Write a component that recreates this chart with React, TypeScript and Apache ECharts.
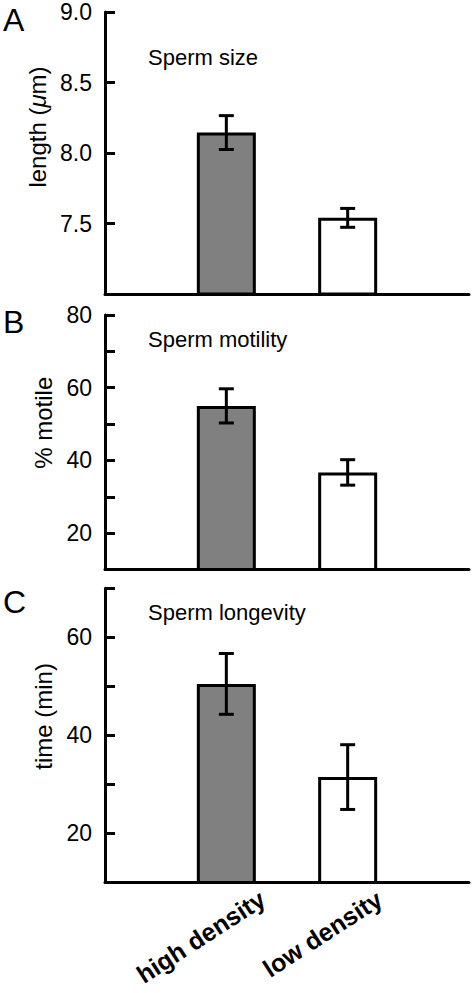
import React, { useEffect, useRef } from "react";
import * as echarts from "echarts";

// ---- data ----
const groups = ["high density", "low density"];
const barColors = ["#808080", "#ffffff"];

const panelLetters = ["A", "B", "C"];
const panelTitles = ["Sperm size", "Sperm motility", "Sperm longevity"];
const yAxisNames = ["length ({i|μ}m)", "% motile", "time (min)"];

const sizeMeans = [8.145, 7.54];
const sizeErrors = [0.12, 0.067];
const motilityMeans = [55.0, 36.7];
const motilityErrors = [4.7, 3.5];
const longevityMeans = [50.5, 31.5];
const longevityErrors = [6.2, 6.6];

const sizeTickLabels = ["7.5", "8.0", "8.5", "9.0"];
const motilityTickLabels = ["20", "40", "60", "80"];
const longevityTickLabels = ["20", "40", "60"];

const yMins = [7.0, 10, 10];
const yMaxs = [9.0, 80, 70];
const yIntervals = [0.5, 10, 10];
const tickDecimals = [1, 0, 0];

// ---- layout ----
const FONT = "'Liberation Sans', Arial, Helvetica, sans-serif";
const gridLeft = 105;
const gridWidth = 364;
const gridTops = [12, 315, 588.3];
const gridHeights = [282, 254.5, 294.2];
const nameGaps = [52, 31, 37];
const namePadLeft = [52, 39, 38];
const titleTops = [46, 328, 601];
const letterTops = [4, 306, 586];

export default function App() {
  const ref = useRef<HTMLDivElement>(null);

  useEffect(() => {
    document.body.style.margin = "0";
    if (!ref.current) return;
    const chart = echarts.init(ref.current, null, { renderer: "svg" });

    const means = [sizeMeans, motilityMeans, longevityMeans];
    const errors = [sizeErrors, motilityErrors, longevityErrors];
    const tickLabels = [sizeTickLabels, motilityTickLabels, longevityTickLabels];
    const axisCats = ["", ...groups, " "];

    const grids: any[] = gridTops.map((t, i) => ({
      left: gridLeft,
      width: gridWidth,
      top: t,
      height: gridHeights[i],
      containLabel: false,
    }));
    // label grid for rotated category names (panel C)
    grids.push({ left: 204, width: 234, top: gridTops[2], height: gridHeights[2] });

    const xAxes: any[] = gridTops.map((_, i) => ({
      gridIndex: i,
      type: "category",
      data: axisCats,
      boundaryGap: false,
      axisLine: { show: true, onZero: false, lineStyle: { color: "#000", width: 3 } },
      axisTick: { show: false },
      axisLabel: { show: false },
      splitLine: { show: false },
    }));
    xAxes.push({
      gridIndex: 3,
      type: "category",
      data: groups,
      boundaryGap: true,
      axisLine: { show: false },
      axisTick: { show: false },
      splitLine: { show: false },
      axisLabel: {
        show: true,
        interval: 0,
        rotate: 33,
        margin: 14,
        fontSize: 25,
        fontWeight: "bold",
        color: "#000",
        fontFamily: FONT,
      },
    });

    const yAxes: any[] = gridTops.map((_, i) => ({
      gridIndex: i,
      type: "value",
      min: yMins[i],
      max: yMaxs[i],
      interval: yIntervals[i],
      axisLine: { show: true, onZero: false, lineStyle: { color: "#000", width: 3 } },
      axisTick: { show: true, inside: true, length: 10, lineStyle: { color: "#000", width: 3 } },
      splitLine: { show: false },
      axisLabel: {
        margin: 13,
        fontSize: 23,
        color: "#000",
        fontFamily: FONT,
        formatter: (v: number) => {
          const s = v.toFixed(tickDecimals[i]);
          return tickLabels[i].indexOf(s) >= 0 ? s : "";
        },
      },
      name: yAxisNames[i],
      nameLocation: "middle",
      nameGap: nameGaps[i],
      nameTextStyle: {
        fontSize: 24,
        color: "#000",
        fontFamily: FONT,
        padding: [0, 0, 0, namePadLeft[i]],
        rich: {
          i: { fontSize: 24, fontStyle: "italic", color: "#000", fontFamily: FONT },
        },
      },
    }));
    yAxes.push({ gridIndex: 3, type: "value", show: false });

    const series: any[] = [];
    gridTops.forEach((_, i) => {
      series.push({
        type: "bar",
        xAxisIndex: i,
        yAxisIndex: i,
        barWidth: 59,
        data: ["-", ...means[i].map((m, k) => ({
          value: m,
          itemStyle: { color: barColors[k], borderColor: "#000", borderWidth: 3 },
        })), "-"],
      });
      series.push({
        type: "custom",
        xAxisIndex: i,
        yAxisIndex: i,
        data: means[i].map((m, k) => [k + 1, m - errors[i][k], m + errors[i][k]]),
        z: 10,
        renderItem: (params: any, api: any) => {
          const lo = api.coord([api.value(0), api.value(1)]);
          const hi = api.coord([api.value(0), api.value(2)]);
          const hw = 7.5;
          const style = { stroke: "#000", lineWidth: 3 };
          return {
            type: "group",
            children: [
              { type: "line", shape: { x1: lo[0], y1: lo[1], x2: hi[0], y2: hi[1] }, style },
              { type: "line", shape: { x1: hi[0] - hw, y1: hi[1], x2: hi[0] + hw, y2: hi[1] }, style },
              { type: "line", shape: { x1: lo[0] - hw, y1: lo[1], x2: lo[0] + hw, y2: lo[1] }, style },
            ],
          };
        },
      });
    });

    const titles: any[] = [];
    panelLetters.forEach((l, i) => {
      titles.push({
        text: l,
        left: 3,
        top: letterTops[i],
        padding: 0,
        textStyle: { fontSize: 32, fontWeight: "normal", color: "#000", fontFamily: FONT },
      });
      titles.push({
        text: panelTitles[i],
        left: 148,
        top: titleTops[i],
        padding: 0,
        textStyle: { fontSize: 22, fontWeight: "normal", color: "#000", fontFamily: FONT },
      });
    });

    chart.setOption({
      animation: false,
      backgroundColor: "#fff",
      textStyle: { fontFamily: FONT },
      title: titles,
      grid: grids,
      xAxis: xAxes,
      yAxis: yAxes,
      series,
    });

    return () => chart.dispose();
  }, []);

  return <div ref={ref} style={{ width: 474, height: 993 }} />;
}
